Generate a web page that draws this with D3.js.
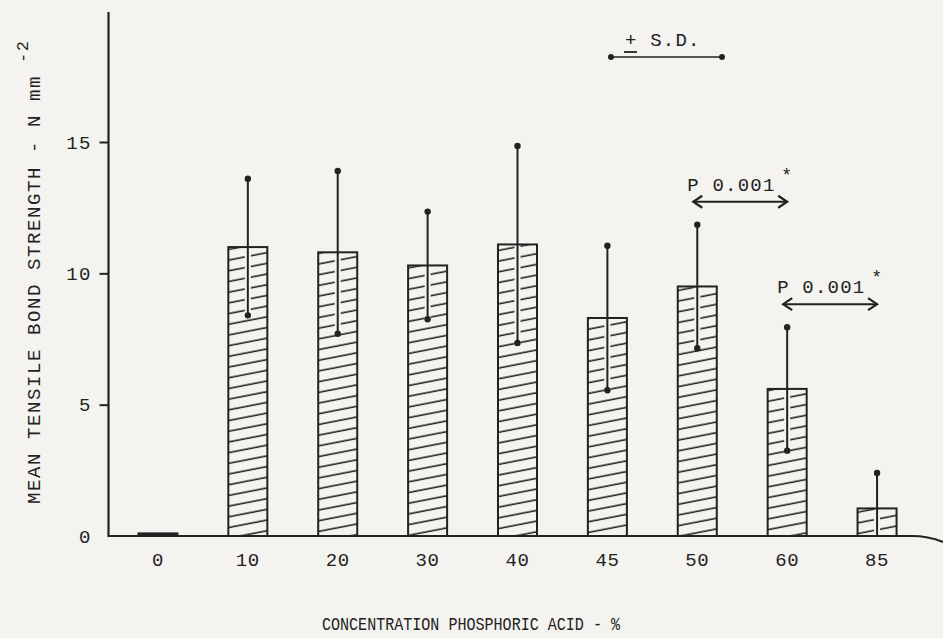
<!DOCTYPE html>
<html>
<head>
<meta charset="utf-8">
<script src="https://cdn.jsdelivr.net/npm/d3@7"></script>
<style>
  body { margin: 0; background: #f4f3ef; }
  svg { display: block; }
  text { font-family: "Liberation Mono", "DejaVu Sans Mono", monospace; fill: #222; }
</style>
</head>
<body>
<script>
// data
const categories = ["0", "10", "20", "30", "40", "45", "50", "60", "85"];
const means = [0.1, 11.0, 10.8, 10.3, 11.1, 8.3, 9.5, 5.6, 1.05];
const sds = [0, 2.6, 3.1, 2.05, 3.75, 2.75, 2.35, 2.35, 1.35];
const yTicks = [0, 5, 10, 15];
const compareFrom = ["50", "60"];
const compareTo = ["60", "85"];
const compareText = ["P 0.001", "P 0.001"];

const w = 943;
const h = 638;
const ink = "#222";

const svg = d3.select("body")
              .append("svg")
              .attr("width", w)
              .attr("height", h);

// hatch pattern, lines rising to the right
const defs = svg.append("defs");
defs.append("pattern")
    .attr("id", "hatch")
    .attr("patternUnits", "userSpaceOnUse")
    .attr("width", 10.5)
    .attr("height", 10.5)
    .attr("patternTransform", "rotate(-11)")
    .append("line")
    .attr("x1", -1).attr("x2", 11.5)
    .attr("y1", 5).attr("y2", 5)
    .attr("stroke", ink)
    .attr("stroke-width", 1.6);

const x = d3.scaleBand()
            .domain(categories)
            .range([113, 922])
            .paddingInner(0.566)
            .paddingOuter(0.283);

const y = d3.scaleLinear()
            .domain([0, 15])
            .range([536, 142]);

const rows = categories.map((c, i) => ({ cat: c, mean: means[i], sd: sds[i] }));

// bars
const bars = svg.append("g");
bars.selectAll("rect.fill")
    .data(rows)
    .enter()
    .append("rect")
    .attr("x", d => x(d.cat))
    .attr("y", d => y(d.mean))
    .attr("width", x.bandwidth())
    .attr("height", d => y(0) - y(d.mean))
    .attr("fill", d => d.mean > 0.5 ? "url(#hatch)" : ink);

// gap in the hatching around the error line
bars.selectAll("rect.gap")
    .data(rows.filter(d => d.sd > 0))
    .enter()
    .append("rect")
    .attr("x", d => x(d.cat) + x.bandwidth() / 2 - 3)
    .attr("y", d => y(d.mean) + 1)
    .attr("width", 6)
    .attr("height", d => y(Math.max(d.mean - d.sd, 0)) - y(d.mean) - 1)
    .attr("fill", "#f4f3ef");

bars.selectAll("rect.outline")
    .data(rows)
    .enter()
    .append("rect")
    .attr("x", d => x(d.cat))
    .attr("y", d => y(d.mean))
    .attr("width", x.bandwidth())
    .attr("height", d => y(0) - y(d.mean))
    .attr("fill", "none")
    .attr("stroke", ink)
    .attr("stroke-width", 2);

// error bars (+/- SD)
const err = svg.append("g");
const withSd = rows.filter(d => d.sd > 0);
err.selectAll("line")
   .data(withSd)
   .enter()
   .append("line")
   .attr("x1", d => x(d.cat) + x.bandwidth() / 2)
   .attr("x2", d => x(d.cat) + x.bandwidth() / 2)
   .attr("y1", d => y(d.mean + d.sd))
   .attr("y2", d => y(Math.max(d.mean - d.sd, 0)))
   .attr("stroke", ink)
   .attr("stroke-width", 2);

const ends = [];
withSd.forEach(d => {
  ends.push({ cat: d.cat, v: d.mean + d.sd });
  if (d.mean - d.sd > 0) ends.push({ cat: d.cat, v: d.mean - d.sd });
});
err.selectAll("circle")
   .data(ends)
   .enter()
   .append("circle")
   .attr("cx", d => x(d.cat) + x.bandwidth() / 2)
   .attr("cy", d => y(d.v))
   .attr("r", 3.2)
   .attr("fill", ink);

// axes
const yAxis = d3.axisLeft(y)
                .tickValues(yTicks)
                .tickSize(9)
                .tickPadding(8);
const gy = svg.append("g")
              .attr("transform", "translate(108.5,0)")
              .call(yAxis);
gy.select(".domain").remove();
gy.selectAll(".tick line").attr("stroke", ink).attr("stroke-width", 2)
  .filter(d => d === 0).remove();
gy.selectAll(".tick text")
  .style("font-size", "19px")
  .style("letter-spacing", "1.2px")
  .attr("font-family", null);

svg.append("line")
   .attr("x1", 108.5).attr("x2", 108.5)
   .attr("y1", 12).attr("y2", y(0) + 1)
   .attr("stroke", ink)
   .attr("stroke-width", 2.2);

const xAxis = d3.axisBottom(x)
                .tickSize(0)
                .tickPadding(17);
const gx = svg.append("g")
              .attr("transform", `translate(0,${y(0)})`)
              .call(xAxis);
gx.select(".domain").remove();
gx.selectAll(".tick text")
  .style("font-size", "19px")
  .style("letter-spacing", "0.6px")
  .attr("font-family", null);

// baseline, bending down at the right end like the drawing
svg.append("path")
   .attr("d", `M108,${y(0)} L912,${y(0)} Q928,${y(0)} 943,${y(0) + 6}`)
   .attr("fill", "none")
   .attr("stroke", ink)
   .attr("stroke-width", 2.2);

// axis titles
const yTitle = svg.append("g")
                  .attr("transform", "translate(40,504) rotate(-90)");
yTitle.append("text")
      .text("MEAN TENSILE BOND STRENGTH - N mm")
      .style("font-size", "19px")
      .style("letter-spacing", "1.6px");
yTitle.append("text")
      .text("-2")
      .attr("x", 441)
      .attr("y", -12)
      .style("font-size", "17px")
      .style("letter-spacing", "1.6px");

svg.append("text")
   .text("CONCENTRATION PHOSPHORIC ACID - %")
   .attr("x", 322)
   .attr("y", 630)
   .attr("textLength", 298)
   .attr("lengthAdjust", "spacingAndGlyphs")
   .style("font-size", "18px");

// +/- S.D. key
svg.append("text")
   .text("+ S.D.")
   .attr("x", 625)
   .attr("y", 46)
   .style("font-size", "19px")
   .style("letter-spacing", "1.2px");
svg.append("line")
   .attr("x1", 624).attr("x2", 637)
   .attr("y1", 52).attr("y2", 52)
   .attr("stroke", ink).attr("stroke-width", 1.8);
svg.append("line")
   .attr("x1", 611).attr("x2", 722)
   .attr("y1", 57).attr("y2", 57)
   .attr("stroke", ink).attr("stroke-width", 1.6);
svg.selectAll("circle.key")
   .data([611, 722])
   .enter()
   .append("circle")
   .attr("cx", d => d)
   .attr("cy", 57)
   .attr("r", 3)
   .attr("fill", ink);

// significance arrows
const center = c => x(c) + x.bandwidth() / 2;
compareFrom.forEach((from, i) => {
  const to = compareTo[i];
  const top = d3.max([from, to], c => {
    const r = rows.find(d => d.cat === c);
    return r.mean + r.sd;
  });
  const ay = y(top) - 23;
  const x1 = center(from) - 4;
  const x2 = center(to);
  const g = svg.append("g");
  g.append("text")
   .text(compareText[i])
   .attr("x", center(from) - 10)
   .attr("y", ay - 11)
   .style("font-size", "19px")
   .style("letter-spacing", "1.2px");
  g.append("text")
   .text("*")
   .attr("x", center(from) + 84)
   .attr("y", ay - 21)
   .style("font-size", "18px");
  g.append("line")
   .attr("x1", x1).attr("x2", x2)
   .attr("y1", ay).attr("y2", ay)
   .attr("stroke", ink).attr("stroke-width", 2);
  g.append("path")
   .attr("d", `M${x1 + 9},${ay - 6} L${x1},${ay} L${x1 + 9},${ay + 6} M${x2 - 9},${ay - 6} L${x2},${ay} L${x2 - 9},${ay + 6}`)
   .attr("fill", "none")
   .attr("stroke", ink)
   .attr("stroke-width", 2.2);
});
</script>
</body>
</html>
